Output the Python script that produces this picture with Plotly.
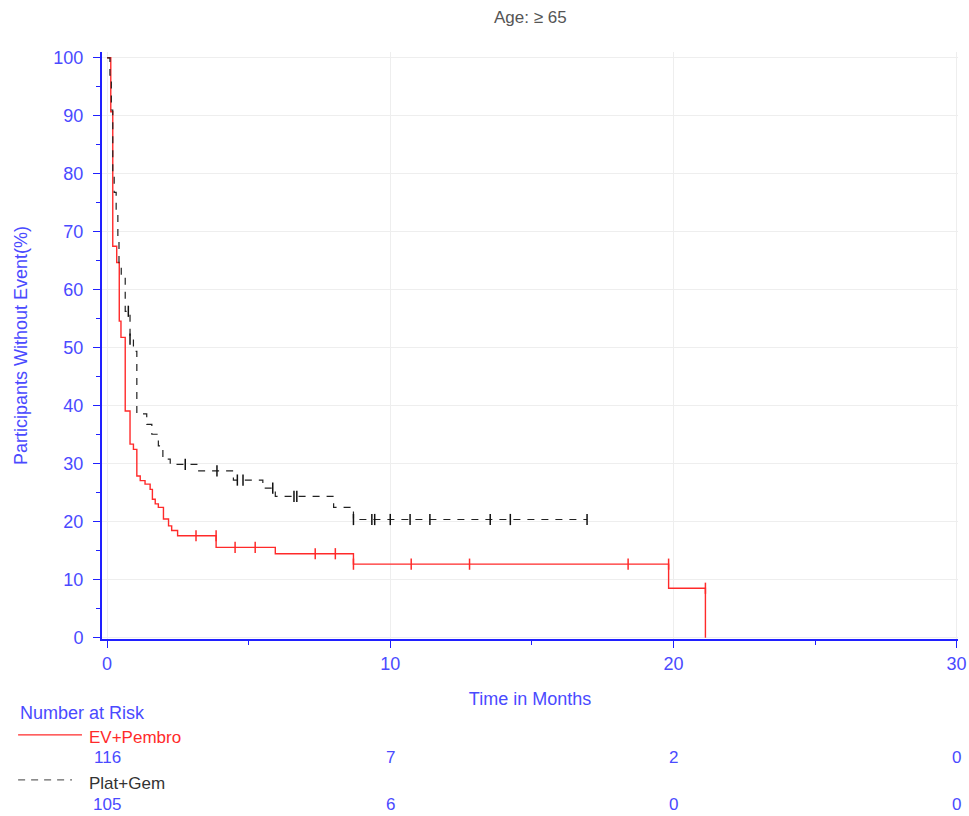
import plotly.graph_objects as go

# Kaplan-Meier step data: event times (months) and survival (%) after each step
ev_times = [0, 0.13, 0.20, 0.34, 0.43, 0.49, 0.64, 0.81, 0.93, 1.05, 1.17, 1.34, 1.52,
            1.60, 1.70, 1.81, 1.99, 2.17, 2.28, 2.49, 3.85, 5.94, 8.70, 19.83, 21.13]
ev_surv = [100, 90.7, 67.5, 64.7, 54.6, 51.8, 39.1, 33.4, 32.5, 27.9, 27.1, 26.5, 25.6,
           23.9, 23.1, 22.5, 20.5, 19.3, 18.5, 17.6, 15.6, 14.5, 12.7, 8.55, 0]
ev_cens_t = [3.14, 3.85, 4.52, 5.23, 7.35, 8.06, 8.70, 10.74, 12.80, 18.40, 19.83, 21.13]
ev_cens_s = [17.6, 17.6, 15.6, 15.6, 14.5, 14.5, 12.7, 12.7, 12.7, 12.7, 12.7, 8.55]

pg_times = [0, 0.10, 0.15, 0.20, 0.25, 0.32, 0.38, 0.42, 0.50, 0.64, 0.81, 0.93, 1.05,
            1.40, 1.58, 1.81, 1.97, 2.23, 3.17, 4.46, 5.50, 5.94, 8.00, 8.70]
pg_surv = [100, 97, 91, 80, 76.8, 73.8, 69, 64.7, 62.3, 56.3, 51.5, 49.4, 38.6,
           36.8, 35.1, 33.1, 30.8, 29.9, 28.8, 27.2, 25.8, 24.4, 22.5, 20.4]
pg_end = 16.95
pg_cens_t = [0.75, 0.81, 2.76, 3.88, 4.60, 4.80, 5.85, 6.60, 6.70, 8.70, 9.35, 9.45,
             10.0, 10.7, 11.4, 13.53, 14.24, 16.95]
pg_cens_s = [56.3, 51.5, 29.9, 28.8, 27.2, 27.2, 25.8, 24.4, 24.4, 20.4, 20.4, 20.4,
             20.4, 20.4, 20.4, 20.4, 20.4, 20.4]

risk_times = [0, 10, 20, 30]
risk_ev = [116, 7, 2, 0]
risk_pg = [105, 6, 0, 0]

BLUE = "#4a4aff"
AXIS_BLUE = "#2020ff"
RED = "#ff2a2a"
FONT = "Liberation Sans, Arial, sans-serif"
FS = 18
FS_TAB = 17

fig = go.Figure()

# EV+Pembro curve
fig.add_trace(go.Scatter(x=ev_times, y=ev_surv, mode="lines", line_shape="hv",
                         line=dict(color=RED, width=1.4), name="EV+Pembro",
                         showlegend=False))
fig.add_trace(go.Scatter(x=ev_cens_t, y=ev_cens_s, mode="markers",
                         marker=dict(symbol="line-ns", size=8,
                                     line=dict(color=RED, width=1.5)),
                         showlegend=False))

# Plat+Gem curve (extended flat to last follow-up)
fig.add_trace(go.Scatter(x=pg_times + [pg_end], y=pg_surv + [pg_surv[-1]], mode="lines",
                         line_shape="hv",
                         line=dict(color="#222222", width=1.2, dash="7px,7px"),
                         name="Plat+Gem", showlegend=False))
fig.add_trace(go.Scatter(x=pg_cens_t, y=pg_cens_s, mode="markers",
                         marker=dict(symbol="line-ns", size=8,
                                     line=dict(color="#111111", width=1.5)),
                         showlegend=False))

# Number at risk rows below the axis
ann = []
ann.append(dict(text="Number at Risk", x=-0.098, y=-0.126, xref="paper", yref="paper",
                xanchor="left", yanchor="middle", showarrow=False,
                font=dict(color=BLUE, size=FS, family=FONT)))
ann.append(dict(text="EV+Pembro", x=-0.0175, y=-0.1686, xref="paper", yref="paper",
                xanchor="left", yanchor="middle", showarrow=False,
                font=dict(color=RED, size=FS_TAB, family=FONT)))
ann.append(dict(text="Plat+Gem", x=-0.0175, y=-0.2470, xref="paper", yref="paper",
                xanchor="left", yanchor="middle", showarrow=False,
                font=dict(color="#333333", size=FS_TAB, family=FONT)))
for t, n in zip(risk_times, risk_ev):
    ann.append(dict(text=str(n), x=t, y=-0.2027, xref="x", yref="paper",
                    xanchor="center", yanchor="middle", showarrow=False,
                    font=dict(color=BLUE, size=FS_TAB, family=FONT)))
for t, n in zip(risk_times, risk_pg):
    ann.append(dict(text=str(n), x=t, y=-0.2811, xref="x", yref="paper",
                    xanchor="center", yanchor="middle", showarrow=False,
                    font=dict(color=BLUE, size=FS_TAB, family=FONT)))
# Title
ann.append(dict(text="Age: \u2265 65", x=0.501, y=1.058, xref="paper", yref="paper",
                xanchor="center", yanchor="middle", showarrow=False,
                font=dict(color="#555555", size=17, family=FONT)))

shapes = [
    dict(type="line", xref="paper", yref="paper", x0=-0.098, x1=-0.0234,
         y0=-0.1635, y1=-0.1635, line=dict(color=RED, width=1.3)),
    dict(type="line", xref="paper", yref="paper", x0=-0.098, x1=-0.035,
         y0=-0.240, y1=-0.240, line=dict(color="#666666", width=1.2, dash="7px,6px")),
]

fig.update_layout(
    width=969, height=816,
    margin=dict(l=102, r=11, t=52, b=177),
    plot_bgcolor="white", paper_bgcolor="white",
    font=dict(family=FONT, color=BLUE, size=FS),
    annotations=ann, shapes=shapes,
    showlegend=False,
)

fig.update_xaxes(
    range=[-0.18, 30.05], tickvals=[0, 10, 20, 30], ticks="outside", ticklen=7,
    tickcolor=AXIS_BLUE, tickfont=dict(color=BLUE, size=FS, family=FONT),
    showline=True, linecolor=AXIS_BLUE, linewidth=2, zeroline=False,
    showgrid=True, gridcolor="#eeeeee", gridwidth=1, automargin=False,
    title=dict(text="Time in Months", font=dict(color=BLUE, size=FS, family=FONT),
               standoff=20),
    minor=dict(tickvals=[5, 15, 25], ticks="outside", ticklen=4, tickcolor=AXIS_BLUE,
               showgrid=False),
)
fig.update_yaxes(
    range=[-0.2, 101], tickvals=list(range(0, 101, 10)), ticks="outside", ticklen=7,
    tickcolor=AXIS_BLUE, tickfont=dict(color=BLUE, size=FS, family=FONT),
    ticklabelstandoff=6,
    showline=True, linecolor=AXIS_BLUE, linewidth=2, zeroline=False,
    showgrid=True, gridcolor="#eeeeee", gridwidth=1, automargin=False,
    title=dict(text="Participants Without Event(%)",
               font=dict(color=BLUE, size=FS, family=FONT), standoff=21),
    minor=dict(tickvals=list(range(5, 100, 10)), ticks="outside", ticklen=4,
               tickcolor=AXIS_BLUE, showgrid=False),
)

fig.write_html("out.html")
